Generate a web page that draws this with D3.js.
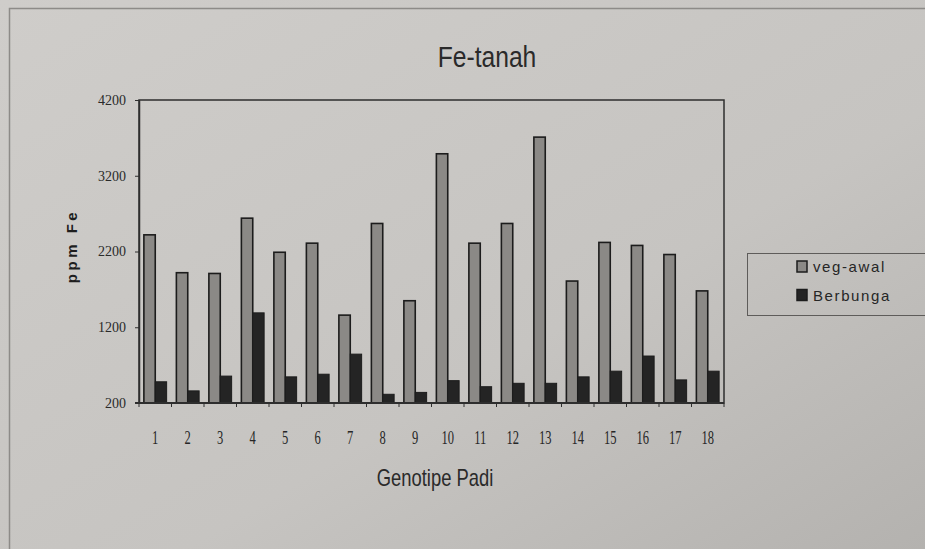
<!DOCTYPE HTML>
<html>
	<head>
		<title>Fe-tanah</title>
		<meta charset="UTF8">
		<script src="https://d3js.org/d3.v7.min.js"></script>
		<style>
			body
			{
				margin: 0;
				padding: 0;
				background-color: #c7c5c2;
			}
			svg
			{
				display: block;
			}
		</style>
	</head>
	<body>
		<svg></svg>
	</body>
	<script>
		const w = 925;
		const h = 549;

		// values
		const genotipe = ["1","2","3","4","5","6","7","8","9","10","11","12","13","14","15","16","17","18"];
		const vegAwal = [2420, 1920, 1910, 2640, 2190, 2310, 1360, 2570, 1550, 3490, 2310, 2570, 3710, 1810, 2320, 2280, 2160, 1680];
		const berbunga = [480, 360, 555, 1390, 545, 580, 845, 315, 340, 495, 415, 460, 460, 545, 620, 820, 505, 620];
		const yTicks = [200, 1200, 2200, 3200, 4200];
		const seriesNames = ["veg-awal", "Berbunga"];

		const plotLeft = 139, plotRight = 724, plotTop = 100, plotBottom = 403;

		const svg = d3.select("svg")
			.attr("width", w)
			.attr("height", h);

		// paper background, a bit darker to the bottom right like the photo
		const grad = svg.append("defs").append("linearGradient")
			.attr("id", "paper")
			.attr("x1", "0").attr("y1", "0")
			.attr("x2", "1").attr("y2", "1");
		grad.append("stop").attr("offset", "0").attr("stop-color", "#cfcdca");
		grad.append("stop").attr("offset", "0.6").attr("stop-color", "#c6c4c1");
		grad.append("stop").attr("offset", "1").attr("stop-color", "#b4b2af");

		svg.append("rect")
			.attr("width", w)
			.attr("height", h)
			.attr("fill", "url(#paper)");

		// outer chart frame
		svg.append("path")
			.attr("d", "M9.5," + h + "V8.5H" + w)
			.attr("fill", "none")
			.attr("stroke", "#8d8b88")
			.attr("stroke-width", 1.5);

		const xScale = d3.scaleBand()
			.domain(genotipe)
			.range([plotLeft, plotRight])
			.paddingInner(0.3)
			.paddingOuter(0.15);

		const xSub = d3.scaleBand()
			.domain(seriesNames)
			.range([0, xScale.bandwidth()]);

		const yScale = d3.scaleLinear()
			.domain([200, 4200])
			.range([plotBottom, plotTop]);

		// plot frame
		svg.append("rect")
			.attr("x", plotLeft)
			.attr("y", plotTop)
			.attr("width", plotRight - plotLeft)
			.attr("height", plotBottom - plotTop)
			.attr("fill", "none")
			.attr("stroke", "#2e2e2e")
			.attr("stroke-width", 1.5);

		// bars
		svg.selectAll(".veg")
			.data(vegAwal)
			.enter()
			.append("rect")
			.attr("class", "veg")
			.attr("x", (d, i) => xScale(genotipe[i]) + xSub("veg-awal"))
			.attr("y", d => yScale(d))
			.attr("width", xSub.bandwidth())
			.attr("height", d => plotBottom - yScale(d))
			.attr("fill", "#8b8986")
			.attr("stroke", "#1c1c1c")
			.attr("stroke-width", 1.6);

		svg.selectAll(".berb")
			.data(berbunga)
			.enter()
			.append("rect")
			.attr("class", "berb")
			.attr("x", (d, i) => xScale(genotipe[i]) + xSub("Berbunga"))
			.attr("y", d => yScale(d))
			.attr("width", xSub.bandwidth())
			.attr("height", d => plotBottom - yScale(d))
			.attr("fill", "#242424")
			.attr("stroke", "#1c1c1c")
			.attr("stroke-width", 1);

		// y axis
		const yAxis = d3.axisLeft(yScale)
			.tickValues(yTicks)
			.tickSize(4)
			.tickSizeOuter(0)
			.tickFormat(d3.format("d"));

		const gy = svg.append("g")
			.attr("transform", "translate(" + plotLeft + ",0)")
			.call(yAxis);
		gy.select(".domain").attr("stroke", "#2e2e2e").attr("stroke-width", 1.5);
		gy.selectAll(".tick line").attr("stroke", "#2e2e2e");
		gy.selectAll(".tick text")
			.attr("x", -13)
			.attr("fill", "#2a2a2a")
			.style("font-family", "'Liberation Serif', serif")
			.style("font-size", "14px");

		// x axis: ticks at category boundaries, labels under each group
		const step = xScale.step();
		const boundaries = d3.range(genotipe.length + 1).map(i => plotLeft + i * step);

		svg.append("line")
			.attr("x1", plotLeft - 4)
			.attr("x2", plotRight)
			.attr("y1", plotBottom)
			.attr("y2", plotBottom)
			.attr("stroke", "#2e2e2e")
			.attr("stroke-width", 2);

		svg.selectAll(".xtick")
			.data(boundaries)
			.enter()
			.append("line")
			.attr("class", "xtick")
			.attr("x1", d => d)
			.attr("x2", d => d)
			.attr("y1", plotBottom)
			.attr("y2", plotBottom + 4)
			.attr("stroke", "#2e2e2e");

		svg.selectAll(".xlabel")
			.data(genotipe)
			.enter()
			.append("text")
			.attr("class", "xlabel")
			.attr("transform", d => "translate(" + (xScale(d) + xScale.bandwidth() / 2) + ",444) scale(0.66,1)")
			.attr("text-anchor", "middle")
			.attr("fill", "#262626")
			.style("font-family", "'Liberation Serif', serif")
			.style("font-size", "19px")
			.text(d => d);

		// titles
		svg.append("text")
			.attr("transform", "translate(487,67) scale(0.85,1)")
			.attr("text-anchor", "middle")
			.attr("fill", "#2a2a2a")
			.style("font-family", "'Liberation Sans', sans-serif")
			.style("font-size", "29px")
			.text("Fe-tanah");

		svg.append("text")
			.attr("transform", "translate(435,486) scale(0.8,1)")
			.attr("text-anchor", "middle")
			.attr("fill", "#2a2a2a")
			.style("font-family", "'Liberation Sans', sans-serif")
			.style("font-size", "23px")
			.text("Genotipe Padi");

		svg.append("text")
			.attr("transform", "translate(77,246) rotate(-90)")
			.attr("text-anchor", "middle")
			.attr("fill", "#1e1e1e")
			.style("font-family", "'Liberation Sans', sans-serif")
			.style("font-weight", "bold")
			.style("font-size", "15px")
			.style("letter-spacing", "3.5px")
			.text("ppm Fe");

		// legend
		svg.append("rect")
			.attr("x", 747.5)
			.attr("y", 253.5)
			.attr("width", 200)
			.attr("height", 62)
			.attr("fill", "none")
			.attr("stroke", "#5e5c5a")
			.attr("stroke-width", 1);

		const legendFill = ["#8b8986", "#242424"];
		const legend = svg.selectAll(".legend")
			.data(seriesNames)
			.enter()
			.append("g")
			.attr("class", "legend")
			.attr("transform", (d, i) => "translate(797," + (261 + i * 28.5) + ")");

		legend.append("rect")
			.attr("width", 10)
			.attr("height", 11)
			.attr("fill", (d, i) => legendFill[i])
			.attr("stroke", "#1c1c1c")
			.attr("stroke-width", 1.5);

		legend.append("text")
			.attr("x", 16)
			.attr("y", 11)
			.attr("fill", "#262626")
			.style("font-family", "'Liberation Sans', sans-serif")
			.style("font-size", "15px")
			.style("letter-spacing", "1.6px")
			.text(d => d);
	</script>
</html>
